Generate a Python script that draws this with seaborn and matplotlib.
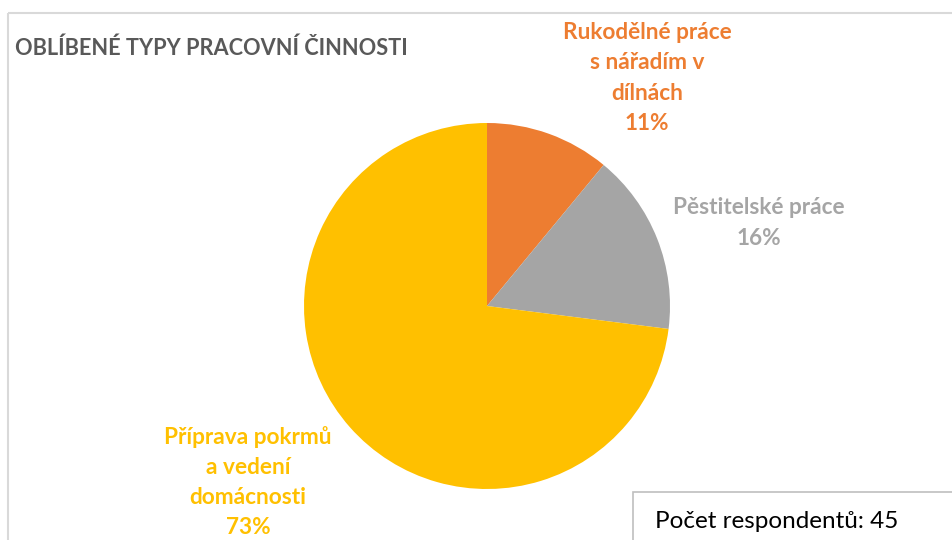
import matplotlib
matplotlib.use("Agg")
import matplotlib.pyplot as plt
from matplotlib.patches import Rectangle
import seaborn as sns

sns.set_theme(style="white")
plt.rcParams["font.family"] = ["Lato", "DejaVu Sans"]

TITLE = "OBLÍBENÉ TYPY PRACOVNÍ ČINNOSTI"
categories = ["Rukodělné práce\ns nářadím v\ndílnách",
              "Pěstitelské práce",
              "Příprava pokrmů\na vedení\ndomácnosti"]
shares = [11, 16, 73]
colors = ["#ED7D31", "#A5A5A5", "#FFC000"]
note = "Počet respondentů: 45"

W, H = 953, 540
fig = plt.figure(figsize=(W / 100, H / 100), dpi=100)
ax = fig.add_axes([0, 0, 1, 1])
ax.set_xlim(0, W)
ax.set_ylim(H, 0)
ax.axis("off")

# pie on its own axes so the usual orientation is kept
cx, cy, r = 487, 306, 183
pax = fig.add_axes([(cx - r) / W, 1 - (cy + r) / H, 2 * r / W, 2 * r / H])
wedges, _ = pax.pie(shares, colors=colors, startangle=90, counterclock=False,
                    radius=1.0, wedgeprops=dict(linewidth=0))
pax.set_xlim(-1, 1)
pax.set_ylim(-1, 1)
pax.set_aspect("equal")
pax.axis("off")

# chart frame
ax.plot([8, W], [13, 13], color="#D9D9D9", lw=1.5, solid_capstyle="butt")
ax.plot([8, 8], [13, H], color="#D9D9D9", lw=1.5, solid_capstyle="butt")

ax.text(15, 48, TITLE, fontsize=15.7, fontweight="bold", color="#595959",
        ha="left", va="center")

# data labels
label_pos = [(647, 78), (759, 223), (248, 482)]
for cat, val, col, (lx, ly) in zip(categories, shares, colors, label_pos):
    ax.text(lx, ly, f"{cat}\n{val}%", fontsize=16.3, fontweight="bold", color=col,
            ha="center", va="center", linespacing=1.53)

# respondents box
ax.add_patch(Rectangle((633, 492), 330, 60, facecolor="white",
                       edgecolor="#BFBFBF", lw=1.2))
ax.text(655, 521, note, fontsize=17.5, color="black", ha="left", va="center")

fig.savefig("out.png", dpi=100)
